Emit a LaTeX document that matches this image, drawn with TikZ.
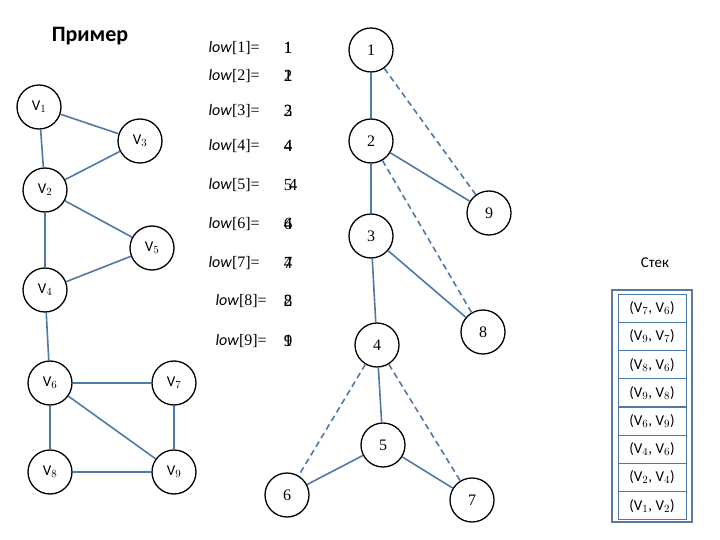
\documentclass[tikz,border=0pt]{standalone}
\usepackage{fontspec}
\setmainfont{Carlito}
\newfontfamily\serifn{Liberation Serif}
\begin{document}
\begin{tikzpicture}[x=1pt,y=-1pt,
 v/.style={circle,draw=black,line width=1.3pt,minimum size=44pt,inner sep=0pt,font=\fontsize{15}{15}\selectfont},
 t/.style={circle,draw=black,line width=1.3pt,minimum size=44pt,inner sep=0pt,font=\serifn\fontsize{16}{16}\selectfont},
 e/.style={draw=edgec,line width=1.6pt},
 d/.style={draw=edgec,line width=1.6pt,dash pattern=on 6pt off 4pt},
 lw/.style={anchor=west,font=\fontsize{16}{16}\selectfont},
 sr/.style={draw=edgec,line width=1pt,minimum width=68pt,minimum height=28pt,font=\fontsize{15}{15}\selectfont}]
\definecolor{edgec}{HTML}{4F79A6}
\useasboundingbox (0,0) rectangle (720,540);
\node[font=\bfseries\fontsize{22}{22}\selectfont] (title) at (90,36) {Пример};
% left graph
\node[v] (v1) at (39,107) {V$_1$};
\node[v] (v3) at (140,141) {V$_3$};
\node[v] (v2) at (45,190) {V$_2$};
\node[v] (v5) at (152,248) {V$_5$};
\node[v] (v4) at (45,290) {V$_4$};
\node[v] (v6) at (50,383) {V$_6$};
\node[v] (v7) at (174,383) {V$_7$};
\node[v] (v8) at (50,472) {V$_8$};
\node[v] (v9) at (174,472) {V$_9$};
\foreach \a/\b in {v1/v3,v1/v2,v3/v2,v2/v5,v2/v4,v4/v5,v4/v6,v6/v7,v6/v8,v8/v9,v7/v9,v6/v9}
 \draw[e] (\a) -- (\b);
% low table
\foreach \i/\y in {1/48,2/76,3/111,4/146,5/185,6/224,7/263,8/301,9/341}{
 \node[lw] (l\i) at ({\i>7?212:205},\y) {\textit{low}\serifn[\i]=};}
\foreach \i/\y/\a/\b/\o in {1/48/1/1/0,2/76/1/2/0,3/111/2/3/0,4/146/4/4/0,5/185/5/4/5,6/224/6/4/0,7/263/7/4/0,8/301/8/2/0,9/341/9/1/0}{
 \node[font=\serifn\fontsize{17}{17}\selectfont] (n\i a) at (288,\y) {\a};
 \node[font=\serifn\fontsize{17}{17}\selectfont] (n\i b) at (288+\o,\y) {\b};}
% tree
\node[t] (t1) at (371,50) {1};
\node[t] (t2) at (371,141) {2};
\node[t] (t9) at (489,213) {9};
\node[t] (t3) at (371,236) {3};
\node[t] (t8) at (483,332) {8};
\node[t] (t4) at (377,345) {4};
\node[t] (t5) at (383,445) {5};
\node[t] (t6) at (287,495) {6};
\node[t] (t7) at (472,500) {7};
\foreach \a/\b in {t1/t2,t2/t3,t2/t9,t3/t4,t3/t8,t4/t5,t5/t6,t5/t7} \draw[e] (\a) -- (\b);
\foreach \a/\b in {t1/t9,t2/t8,t4/t6,t4/t7} \draw[d] (\a) -- (\b);
% stack
\node[font=\fontsize{15}{15}\selectfont] (st) at (655,263) {Стек};
\node[draw=edgec!80!gray,line width=2.5pt,minimum width=80pt,minimum height=232pt] (box) at (652,406) {};
\foreach \i/\txt in {1/{(V$_7$, V$_6$)},2/{(V$_9$, V$_7$)},3/{(V$_8$, V$_6$)},4/{(V$_9$, V$_8$)},5/{(V$_6$, V$_9$)},6/{(V$_4$, V$_6$)},7/{(V$_2$, V$_4$)},8/{(V$_1$, V$_2$)}}
 \node[sr] (s\i) at (652,{280+28.2*\i}) {\txt};
\end{tikzpicture}
\end{document}
